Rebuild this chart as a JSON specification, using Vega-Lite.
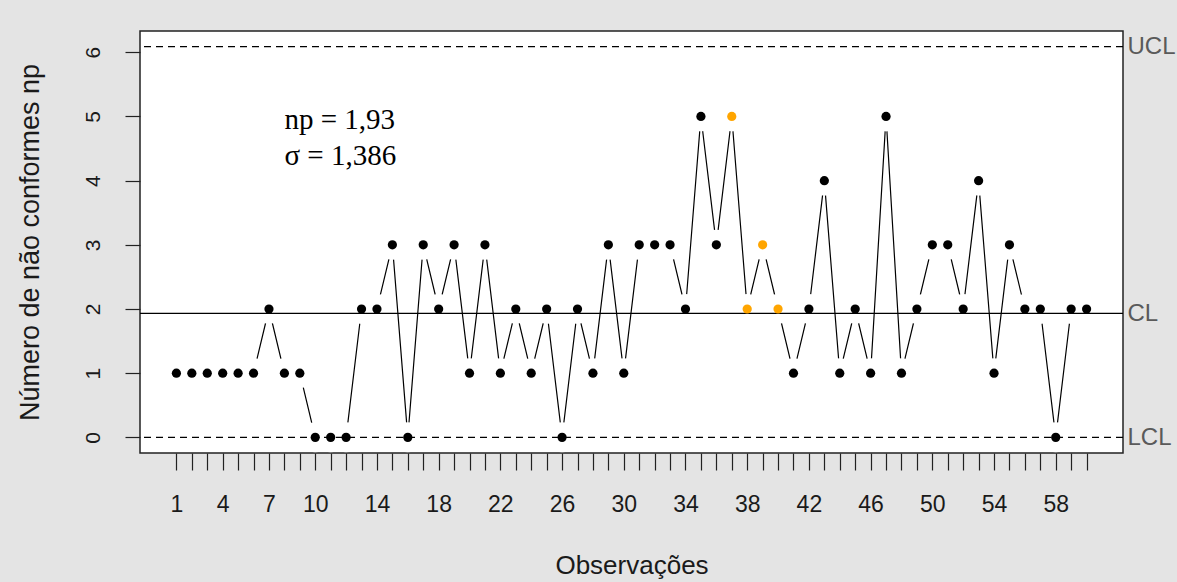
{
  "$schema": "https://vega.github.io/schema/vega-lite/v6.json",
  "width": 983,
  "height": 422,
  "autosize": {"type": "none"},
  "padding": {"left": 140, "top": 31, "right": 54, "bottom": 129},
  "background": "#e4e4e4",
  "config": {
    "view": {"fill": "white", "stroke": "#222222", "strokeWidth": 1.5},
    "font": "Liberation Sans"
  },
  "datasets": {
    "obs": [
      {"obs": 1, "np": 1, "flag": "ok"}, {"obs": 2, "np": 1, "flag": "ok"}, {"obs": 3, "np": 1, "flag": "ok"},
      {"obs": 4, "np": 1, "flag": "ok"}, {"obs": 5, "np": 1, "flag": "ok"}, {"obs": 6, "np": 1, "flag": "ok"},
      {"obs": 7, "np": 2, "flag": "ok"}, {"obs": 8, "np": 1, "flag": "ok"}, {"obs": 9, "np": 1, "flag": "ok"},
      {"obs": 10, "np": 0, "flag": "ok"}, {"obs": 11, "np": 0, "flag": "ok"}, {"obs": 12, "np": 0, "flag": "ok"},
      {"obs": 13, "np": 2, "flag": "ok"}, {"obs": 14, "np": 2, "flag": "ok"}, {"obs": 15, "np": 3, "flag": "ok"},
      {"obs": 16, "np": 0, "flag": "ok"}, {"obs": 17, "np": 3, "flag": "ok"}, {"obs": 18, "np": 2, "flag": "ok"},
      {"obs": 19, "np": 3, "flag": "ok"}, {"obs": 20, "np": 1, "flag": "ok"}, {"obs": 21, "np": 3, "flag": "ok"},
      {"obs": 22, "np": 1, "flag": "ok"}, {"obs": 23, "np": 2, "flag": "ok"}, {"obs": 24, "np": 1, "flag": "ok"},
      {"obs": 25, "np": 2, "flag": "ok"}, {"obs": 26, "np": 0, "flag": "ok"}, {"obs": 27, "np": 2, "flag": "ok"},
      {"obs": 28, "np": 1, "flag": "ok"}, {"obs": 29, "np": 3, "flag": "ok"}, {"obs": 30, "np": 1, "flag": "ok"},
      {"obs": 31, "np": 3, "flag": "ok"}, {"obs": 32, "np": 3, "flag": "ok"}, {"obs": 33, "np": 3, "flag": "ok"},
      {"obs": 34, "np": 2, "flag": "ok"}, {"obs": 35, "np": 5, "flag": "ok"}, {"obs": 36, "np": 3, "flag": "ok"},
      {"obs": 37, "np": 5, "flag": "run"}, {"obs": 38, "np": 2, "flag": "run"}, {"obs": 39, "np": 3, "flag": "run"},
      {"obs": 40, "np": 2, "flag": "run"}, {"obs": 41, "np": 1, "flag": "ok"}, {"obs": 42, "np": 2, "flag": "ok"},
      {"obs": 43, "np": 4, "flag": "ok"}, {"obs": 44, "np": 1, "flag": "ok"}, {"obs": 45, "np": 2, "flag": "ok"},
      {"obs": 46, "np": 1, "flag": "ok"}, {"obs": 47, "np": 5, "flag": "ok"}, {"obs": 48, "np": 1, "flag": "ok"},
      {"obs": 49, "np": 2, "flag": "ok"}, {"obs": 50, "np": 3, "flag": "ok"}, {"obs": 51, "np": 3, "flag": "ok"},
      {"obs": 52, "np": 2, "flag": "ok"}, {"obs": 53, "np": 4, "flag": "ok"}, {"obs": 54, "np": 1, "flag": "ok"},
      {"obs": 55, "np": 3, "flag": "ok"}, {"obs": 56, "np": 2, "flag": "ok"}, {"obs": 57, "np": 2, "flag": "ok"},
      {"obs": 58, "np": 0, "flag": "ok"}, {"obs": 59, "np": 2, "flag": "ok"}, {"obs": 60, "np": 2, "flag": "ok"}
    ],
    "limits": [
      {"name": "UCL", "value": 6.088, "style": "dashed"},
      {"name": "CL", "value": 1.9333, "style": "solid"},
      {"name": "LCL", "value": 0, "style": "dashed"}
    ],
    "notes": [
      {"label": "np = 1,93", "obs": 8.0, "np": 4.94},
      {"label": "σ = 1,386", "obs": 8.0, "np": 4.39}
    ]
  },
  "resolve": {"scale": {"y": "shared", "x": "shared"}, "axis": {"y": "independent"}},
  "layer": [
    {
      "data": {"name": "obs"},
      "mark": {"type": "line", "color": "black", "strokeWidth": 1.2},
      "encoding": {
        "x": {
          "field": "obs", "type": "quantitative",
          "scale": {"domain": [-1.36, 62.36], "nice": false, "zero": false},
          "axis": {
            "title": "Observações",
            "values": [1,2,3,4,5,6,7,8,9,10,11,12,13,14,15,16,17,18,19,20,21,22,23,24,25,26,27,28,29,30,31,32,33,34,35,36,37,38,39,40,41,42,43,44,45,46,47,48,49,50,51,52,53,54,55,56,57,58,59,60],
            "tickCount": 200,
            "format": "d",
            "labelExpr": "(datum.value <= 10 ? (datum.value % 3 == 1) : (datum.value % 4 == 2)) ? datum.label : ''",
            "labelOverlap": false, "labelFlush": false,
            "domain": false, "grid": false,
            "tickSize": 17, "tickColor": "#222222", "tickWidth": 1.2,
            "labelFontSize": 23, "labelColor": "#1a1a1a", "labelPadding": 23,
            "titleFontSize": 26, "titleFontWeight": "normal", "titleColor": "#1a1a1a", "titlePadding": 36
          }
        },
        "y": {
          "field": "np", "type": "quantitative",
          "scale": {"domain": [-0.2435, 6.3315], "nice": false, "zero": false},
          "axis": {
            "orient": "left",
            "title": "Número de não conformes np",
            "values": [0, 1, 2, 3, 4, 5, 6],
            "tickCount": 20,
            "format": "d",
            "labelAngle": -90, "labelAlign": "center", "labelBaseline": "bottom",
            "domain": false, "grid": false,
            "tickSize": 15, "tickColor": "#222222", "tickWidth": 1.2,
            "labelFontSize": 21, "labelColor": "#1a1a1a", "labelPadding": 22,
            "titleFontSize": 27, "titleFontWeight": "normal", "titleColor": "#1a1a1a", "titlePadding": 38
          }
        }
      }
    },
    {
      "data": {"name": "obs"},
      "mark": {"type": "point", "filled": true, "color": "white", "opacity": 1, "size": 900},
      "encoding": {
        "x": {"field": "obs", "type": "quantitative"},
        "y": {"field": "np", "type": "quantitative", "axis": null}
      }
    },
    {
      "data": {"name": "limits"},
      "mark": {"type": "rule", "color": "black", "strokeWidth": 1.3},
      "encoding": {
        "y": {
          "field": "value", "type": "quantitative",
          "axis": {
            "orient": "right",
            "title": null,
            "values": [0, 1.9333, 6.088],
            "labelExpr": "datum.value == 0 ? 'LCL' : (datum.value < 3 ? 'CL' : 'UCL')",
            "ticks": false, "domain": false, "grid": false,
            "labelFontSize": 24, "labelColor": "#5a5a5a", "labelPadding": 4,
            "labelBaseline": "middle"
          }
        },
        "strokeDash": {
          "field": "style", "type": "nominal",
          "scale": {"domain": ["dashed", "solid"], "range": [[7, 5], [1, 0]]},
          "legend": null
        }
      }
    },
    {
      "data": {"name": "notes"},
      "mark": {"type": "text", "font": "Liberation Serif", "fontSize": 29, "align": "left", "baseline": "middle", "color": "black"},
      "encoding": {
        "x": {"field": "obs", "type": "quantitative"},
        "y": {"field": "np", "type": "quantitative", "axis": null},
        "text": {"field": "label"}
      }
    },
    {
      "data": {"name": "obs"},
      "mark": {"type": "point", "filled": true, "opacity": 1, "size": 85},
      "encoding": {
        "x": {"field": "obs", "type": "quantitative"},
        "y": {"field": "np", "type": "quantitative", "axis": null},
        "color": {
          "field": "flag", "type": "nominal",
          "scale": {"domain": ["ok", "run"], "range": ["#000000", "#FFA500"]},
          "legend": null
        }
      }
    }
  ]
}
